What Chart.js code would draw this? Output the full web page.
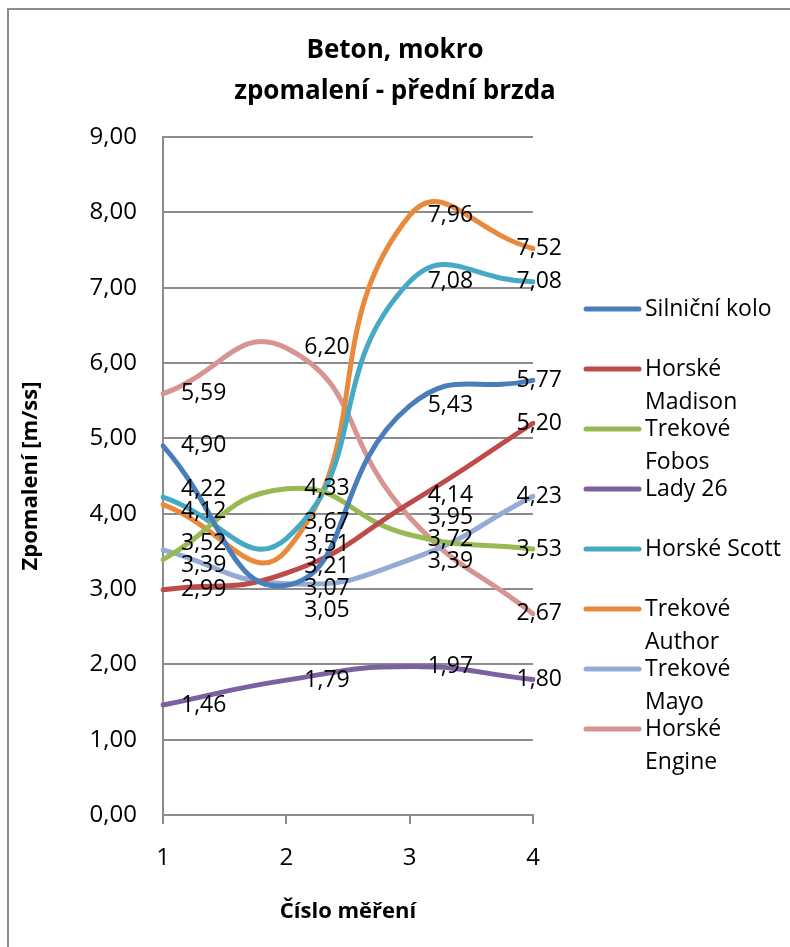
<!DOCTYPE html>
<html>
<head>
<meta charset="utf-8">
<script src="https://cdn.jsdelivr.net/npm/chart.js@4"></script>
<style>
  html, body { margin: 0; padding: 0; background: #fff; }
  #wrap { width: 790px; height: 947px; }
</style>
</head>
<body>
<div id="wrap"><canvas id="graf" width="790" height="947"></canvas></div>
<script>
// --- data ---
const categories = ['1', '2', '3', '4'];
const seriesNames = ['Silniční kolo', 'Horské Madison', 'Trekové Fobos', 'Lady 26',
                     'Horské Scott', 'Trekové Author', 'Trekové Mayo', 'Horské Engine'];
const silnicniKolo  = [4.90, 3.05, 5.43, 5.77];
const horskeMadison = [2.99, 3.21, 4.14, 5.20];
const trekoveFobos  = [3.39, 4.33, 3.72, 3.53];
const lady26        = [1.46, 1.79, 1.97, 1.80];
const horskeScott   = [4.22, 3.67, 7.08, 7.08];
const trekoveAuthor = [4.12, 3.51, 7.96, 7.52];
const trekoveMayo   = [3.52, 3.07, 3.39, 4.23];
const horskeEngine  = [5.59, 6.20, 3.95, 2.67];
const yTicks = [0, 1, 2, 3, 4, 5, 6, 7, 8, 9];

const barvy = ['#4A7EBB', '#BE4B48', '#98B954', '#7D60A0', '#46AAC5', '#E9893B', '#93ABD6', '#D69592'];
const FONT = '"Open Sans", sans-serif';

function cz(v) { return v.toFixed(2).replace('.', ','); }

// titulek, popisky os, legenda, ramecek, popisky hodnot
const kresba = {
    id: 'kresba',
    beforeDraw(chart) {
        const ctx = chart.ctx;
        ctx.save();
        ctx.strokeStyle = '#8c8c8c';
        ctx.lineWidth = 2;
        ctx.strokeRect(8, 9, 900, 1000);
        ctx.restore();
    },
    afterDraw(chart) {
        const ctx = chart.ctx;
        const a = chart.chartArea;
        ctx.save();
        ctx.fillStyle = '#000';
        ctx.textAlign = 'center';
        ctx.textBaseline = 'middle';
        ctx.font = 'bold 26px ' + FONT;
        ctx.fillText('Beton, mokro', 395, 51);
        ctx.fillText('zpomalení - přední brzda', 395, 92);
        ctx.font = 'bold 22px ' + FONT;
        ctx.fillText('Číslo měření', (a.left + a.right) / 2, 912);
        ctx.translate(31, (a.top + a.bottom) / 2);
        ctx.rotate(-Math.PI / 2);
        ctx.fillText('Zpomalení [m/ss]', 0, 0);
        ctx.restore();

        // legenda
        ctx.save();
        ctx.font = '23px ' + FONT;
        ctx.textAlign = 'left';
        ctx.textBaseline = 'middle';
        chart.data.datasets.forEach((ds, i) => {
            const y = 309 + i * 60;
            ctx.strokeStyle = ds.borderColor;
            ctx.lineWidth = 5;
            ctx.lineCap = 'round';
            ctx.beginPath();
            ctx.moveTo(586, y);
            ctx.lineTo(639, y);
            ctx.stroke();
            // zalomeni textu
            const slova = ds.label.split(' ');
            const radky = [];
            let r = '';
            slova.forEach(s => {
                const t = r ? r + ' ' + s : s;
                if (r && ctx.measureText(t).width > 142) { radky.push(r); r = s; } else { r = t; }
            });
            radky.push(r);
            ctx.fillStyle = '#000';
            radky.forEach((t, k) => ctx.fillText(t, 645, y + k * 33));
        });
        ctx.restore();
    },
    afterDatasetsDraw(chart) {
        const ctx = chart.ctx;
        const a = chart.chartArea;
        ctx.save();
        ctx.font = '23px ' + FONT;
        ctx.fillStyle = '#000';
        ctx.textAlign = 'left';
        ctx.textBaseline = 'middle';
        categories.forEach((c, j) => {
            const items = chart.data.datasets.map((ds, i) => {
                const el = chart.getDatasetMeta(i).data[j];
                return { x: el.x, y: el.y, text: cz(ds.data[j]) };
            }).sort((p, q) => p.y - q.y);
            // rozhodit aby se neprekryvaly
            const gap = 22;
            for (let it = 0; it < 60; it++) {
                for (let k = 0; k < items.length - 1; k++) {
                    const d = items[k + 1].y - items[k].y;
                    if (d < gap) {
                        items[k].y -= (gap - d) / 2;
                        items[k + 1].y += (gap - d) / 2;
                    }
                }
            }
            items.forEach(p => {
                const w = ctx.measureText(p.text).width;
                let x = p.x + 18;
                if (x + w > a.right + 29) x = a.right + 29 - w;
                ctx.fillText(p.text, x, p.y);
            });
        });
        ctx.restore();
    }
};

const datasets = [silnicniKolo, horskeMadison, trekoveFobos, lady26,
                  horskeScott, trekoveAuthor, trekoveMayo, horskeEngine].map((d, i) => ({
    label: seriesNames[i],
    data: d,
    borderColor: barvy[i],
    backgroundColor: barvy[i],
    borderWidth: 5,
    borderCapStyle: 'round',
    pointRadius: 0,
    tension: 0.5,
    fill: false
}));

new Chart(document.getElementById('graf'), {
    type: 'line',
    data: { labels: categories, datasets: datasets },
    plugins: [kresba],
    options: {
        responsive: false,
        animation: false,
        layout: { padding: { left: 0, right: 257, top: 137, bottom: 0 } },
        plugins: { legend: { display: false }, title: { display: false }, tooltip: { enabled: false } },
        scales: {
            x: {
                offset: false,
                grid: { drawOnChartArea: false, drawTicks: true, tickLength: 9, color: '#8c8c8c', lineWidth: 2 },
                border: { color: '#8c8c8c', width: 2 },
                ticks: { color: '#000', font: { family: FONT, size: 24 }, padding: 20, maxRotation: 0 },
                afterFit(s) { s.height = 132; }
            },
            y: {
                min: 0, max: 9,
                afterBuildTicks(s) { s.ticks = yTicks.map(v => ({ value: v })); },
                grid: { color: '#8c8c8c', lineWidth: 2, drawTicks: false },
                border: { color: '#8c8c8c', width: 2 },
                ticks: { color: '#000', font: { family: FONT, size: 24 }, padding: 26, callback: v => cz(v) },
                afterFit(s) { s.width = 163; }
            }
        }
    }
});
</script>
</body>
</html>
